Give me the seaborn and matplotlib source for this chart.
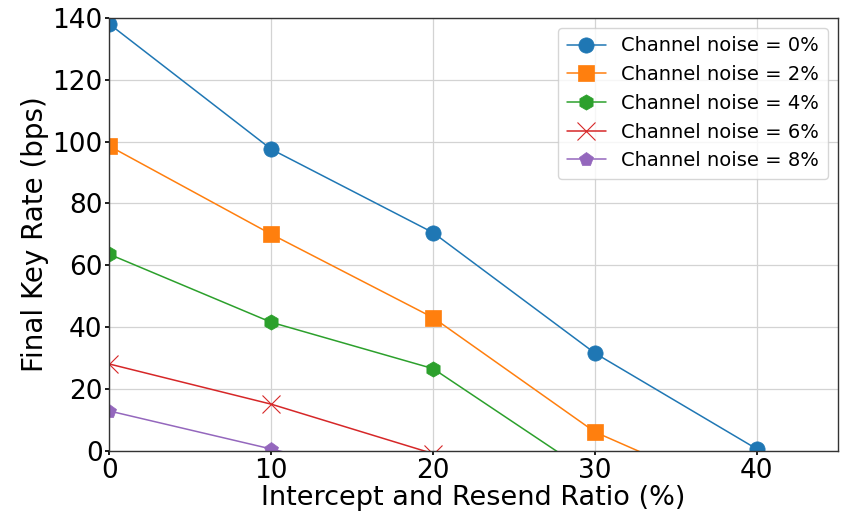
import matplotlib
matplotlib.use("Agg")

import matplotlib.pyplot as plt
import pandas as pd
import seaborn as sns

# Intercept-resend ratio (%) on the x axis
ratio = [0, 10, 20, 30, 40]

# Final key rate (bps) per channel noise level
rate_noise_0 = [138, 97.5, 70.5, 31.5, 0.5]
rate_noise_2 = [98.5, 70, 43, 6, -17]
rate_noise_4 = [63.5, 41.5, 26.5, -8.5, -43]
rate_noise_6 = [28, 15, -1, -17, -33]
rate_noise_8 = [12.8, 0.5, -12, -24, -36]

labels = [f"Channel noise = {n}%" for n in (0, 2, 4, 6, 8)]
series = [rate_noise_0, rate_noise_2, rate_noise_4, rate_noise_6, rate_noise_8]

df = pd.concat(
    [pd.DataFrame({"ratio": ratio, "rate": vals, "noise": lab}) for lab, vals in zip(labels, series)],
    ignore_index=True,
)

sns.set_theme(style="ticks")
plt.rcParams.update({
    "axes.edgecolor": "#333333",
    "axes.linewidth": 1.0,
    "grid.color": "#d3d3d3",
    "grid.linewidth": 0.9,
    "text.color": "black",
    "axes.labelcolor": "black",
    "xtick.color": "black",
    "ytick.color": "black",
})
plt.rcParams["font.family"] = ["DejaVu Sans"]

fig, ax = plt.subplots(figsize=(8.42, 5.12), dpi=100)

markers = ["o", "s", "h", "x", "p"]
sizes = [11, 11, 11, 13, 10]
palette = sns.color_palette("tab10", 5)

for lab, mk, ms, col in zip(labels, markers, sizes, palette):
    sub = df[df["noise"] == lab]
    sns.lineplot(
        data=sub, x="ratio", y="rate", ax=ax, color=col, marker=mk,
        markersize=ms, linewidth=1.1, label=lab,
        markeredgecolor=col, markeredgewidth=0.8 if mk == "x" else 0.5,
    )

ax.set_xlim(0, 45)
ax.set_ylim(0, 140)
ax.set_xticks([0, 10, 20, 30, 40])
ax.set_yticks(range(0, 141, 20))
ax.grid(True)
ax.tick_params(labelsize=19, length=3, pad=2)
ax.set_xlabel("Intercept and Resend Ratio (%)", fontsize=19.5, labelpad=1)
ax.set_ylabel("Final Key Rate (bps)", fontsize=20, labelpad=2)
leg = ax.legend(loc="upper right", fontsize=14, frameon=True, handlelength=2,
                borderpad=0.45, labelspacing=0.5)
for t in leg.get_texts():
    t.set_color("black")

fig.subplots_adjust(left=0.13, right=0.995, top=0.965, bottom=0.12)
fig.savefig("out.png", dpi=100)
plt.close(fig)
